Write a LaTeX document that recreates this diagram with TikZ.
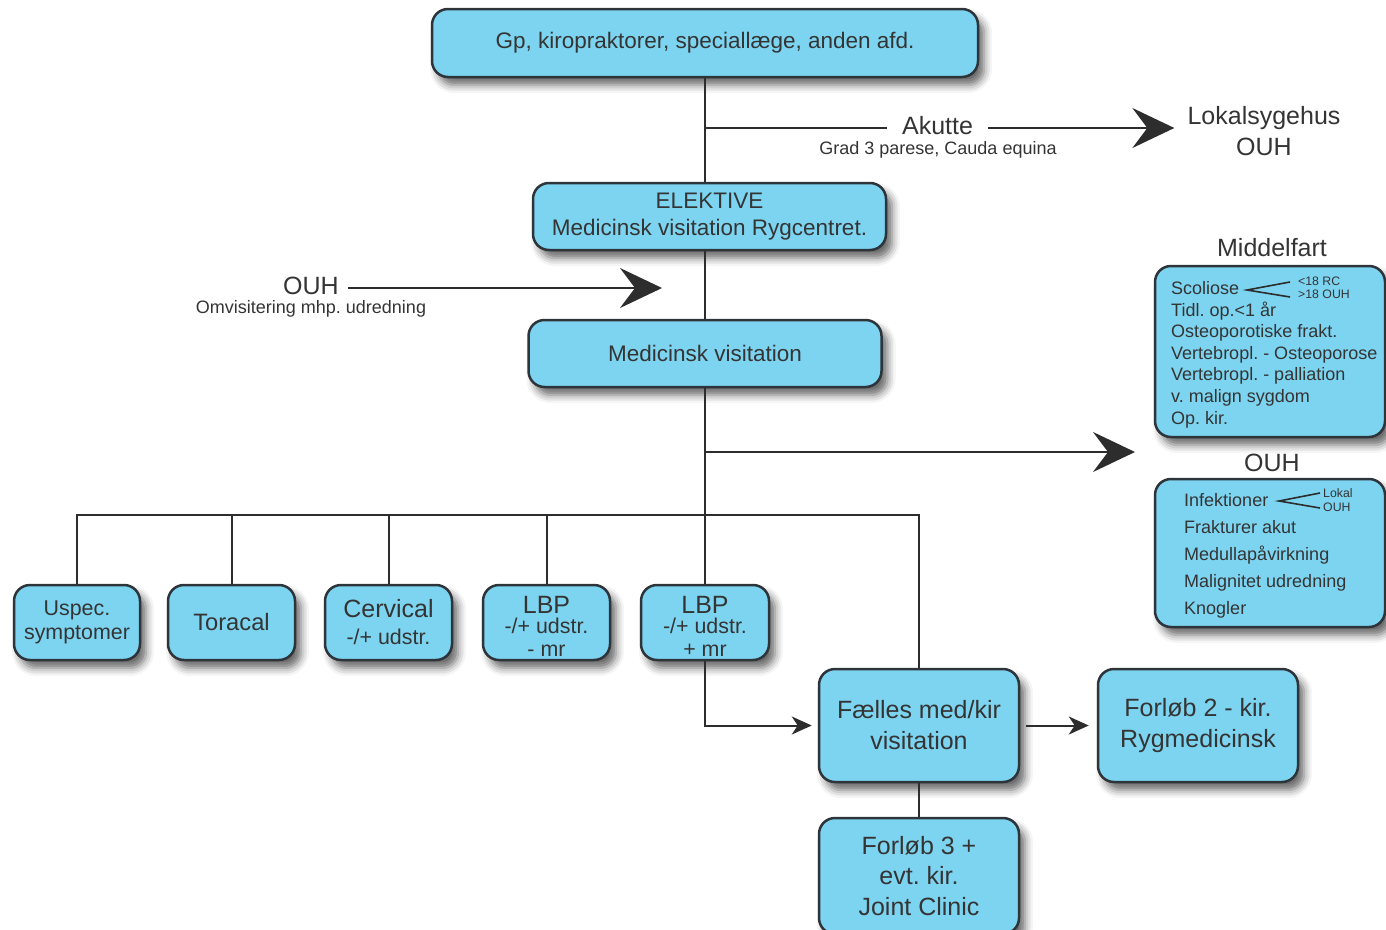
\documentclass[tikz,border=0pt]{standalone}
\usepackage{fontspec}
\setmainfont{Liberation Sans}
\usetikzlibrary{shadows.blur,arrows.meta,calc}
\definecolor{boxfill}{RGB}{125,212,240}
\definecolor{boxline}{RGB}{45,52,58}
\definecolor{txt}{RGB}{52,52,52}
\definecolor{wire}{RGB}{45,45,45}
\newcommand{\fs}[2]{\fontsize{#1}{#2}\selectfont}
\frenchspacing
\begin{document}
\frenchspacing
\begin{tikzpicture}[x=1pt,y=-1pt,
  box/.style={draw=boxline, line width=2.5pt, fill=boxfill, rounded corners=16pt, align=center, text=txt, inner sep=0pt,
    blur shadow={shadow xshift=6pt, shadow yshift=-8pt, shadow blur radius=8pt, shadow opacity=60}},
  conn/.style={draw=wire, line width=2pt},
  bigarrow/.style={conn, -{Stealth[length=42pt,width=40pt,inset=15pt]}},
  smallarrow/.style={conn, -{Stealth[length=20pt,width=18pt,inset=6pt]}},
  lbl/.style={text=txt, inner sep=0pt, align=center},
  twig/.style={draw=wire, line width=1.6pt},
]
\useasboundingbox (0,0) rectangle (1386,929);

% main column
\node[box, minimum width=546pt, minimum height=68pt, font=\fs{22.5}{27}] (gp) at (705,43) {Gp, kiropraktorer, speciallæge, anden afd.};
\node[box, minimum width=353pt, minimum height=67pt, font=\fs{22.5}{27}] (elek) at (709.5,216.5) {ELEKTIVE\\Medicinsk visitation Rygcentret.};
\node[box, minimum width=353pt, minimum height=67pt, font=\fs{22.5}{27}] (medv) at (705,353.5) {Medicinsk visitation};

% right panels
\node[box, minimum width=230pt, minimum height=171pt] (midf) at (1270,351.5) {};
\node[lbl, font=\fs{25}{30}] (midft) at (1272,248) {Middelfart};
\node[box, minimum width=230pt, minimum height=148pt] (ouhb) at (1270,553) {};
\node[lbl, font=\fs{25}{30}] (ouht) at (1272,463) {OUH};

\foreach \t [count=\i] in {Scoliose, Tidl. op.<1 år, Osteoporotiske frakt., Vertebropl. - Osteoporose, Vertebropl. - palliation, v. malign sygdom, Op. kir.}
  \node[lbl, anchor=base west, font=\fs{18}{21}] (m\i) at (1171,{294.5+21.6*(\i-1)}) {\t};
\draw[twig] (1290,282) -- (1247,290) -- (1290,297);
\node[lbl, anchor=west, font=\fs{12.3}{14}] (rc) at (1298,281) {<18 RC};
\node[lbl, anchor=west, font=\fs{12.3}{14}] (o18) at (1298,294.5) {>18 OUH};

\foreach \t [count=\i] in {Infektioner, Frakturer akut, Medullapåvirkning, Malignitet udredning, Knogler}
  \node[lbl, anchor=base west, font=\fs{18}{21}] (o\i) at (1184,{506.5+27*(\i-1)}) {\t};
\draw[twig] (1320,493) -- (1279,501) -- (1320,508);
\node[lbl, anchor=west, font=\fs{12.3}{14}] (lok) at (1323,493) {Lokal};
\node[lbl, anchor=west, font=\fs{12.3}{14}] (ouhs) at (1323,507) {OUH};

% Akutte branch
\coordinate (akb) at (705,128);
\node[lbl, font=\fs{25}{30}, inner xsep=15pt] (akutte) at (937.5,126) {Akutte};
\node[lbl, font=\fs{18}{21}] (grad) at (938,149.5) {Grad 3 parese, Cauda equina};
\node[lbl, font=\fs{25}{31}, inner xsep=13pt] (lokal) at (1264,131) {Lokalsygehus\\OUH};
\draw[conn] (akb) -- (akb -| akutte.west);
\draw[bigarrow] (akutte.east |- akb) -- (lokal.west |- akb);

% OUH left arrow
\node[lbl, font=\fs{25}{30}, inner xsep=9pt] (ouhl) at (311,286) {OUH};
\node[lbl, font=\fs{18}{21}] (omv) at (311,308.5) {Omvisitering mhp. udredning};
\coordinate (ouhtip) at (662,288);
\draw[bigarrow] (ouhl.east |- ouhtip) -- (ouhtip);

% bottom row
\node[box, minimum width=126pt, minimum height=75pt, font=\fs{21.4}{26}] (uspec) at (77,622.5) {\raisebox{-2pt}{Uspec.}\\symptomer};
\node[box, minimum width=127pt, minimum height=75pt, font=\fs{23.7}{28}] (toracal) at (231.5,622.5) {Toracal};
\node[box, minimum width=127pt, minimum height=75pt, font=\fs{21.4}{27}] (cervical) at (388.5,622.5) {{\fs{25}{27}Cervical}\\-/+ udstr.};
\node[box, minimum width=127pt, minimum height=75pt] (lbp1) at (546.5,622.5) {};
\node[lbl, font=\fs{21.4}{22.5}] (lbp1t) at (546.5,626.5) {{\fs{25}{22.5}LBP}\\[-2pt]-/+ udstr.\\[0.5pt]- mr};
\node[box, minimum width=128pt, minimum height=75pt] (lbp2) at (705,622.5) {};
\node[lbl, font=\fs{21.4}{22.5}] (lbp2t) at (705,626.5) {{\fs{25}{22.5}LBP}\\[-2pt]-/+ udstr.\\[0.5pt]+ mr};

\node[box, minimum width=200pt, minimum height=113pt, font=\fs{25}{31}] (fael) at (919,725.5) {Fælles med/kir\\visitation};
\node[box, minimum width=200pt, minimum height=113pt, font=\fs{25}{31}] (forl2) at (1198,725.5) {Forløb 2 - kir.\\Rygmedicinsk};
\node[box, minimum width=200pt, minimum height=116pt, font=\fs{25}{30.5}] (forl3) at (919,876) {Forløb 3 +\\evt. kir.\\Joint Clinic};

% connectors
\draw[conn] (gp.south) -- (gp.south |- elek.north);
\draw[conn] (gp.south |- elek.south) -- (gp.south |- medv.north);
\coordinate (bus) at (705,515);
\coordinate (rb) at (705,452);
\coordinate (rtip) at (1135,452);
\draw[conn] (medv.south) -- (lbp2.north);
\draw[bigarrow] (rb) -- (rtip);
\draw[conn] (uspec.north) -- (uspec.north |- bus) -- (fael.north |- bus) -- (fael.north);
\foreach \n in {toracal, cervical, lbp1}
  \draw[conn] (\n.north) -- (\n.north |- bus);
\draw[smallarrow, shorten >=6pt] (lbp2.south) |- (fael.west);
\draw[smallarrow, shorten <=6pt, shorten >=8pt] (fael.east) -- (forl2.west);
\draw[conn] (fael.south) -- (forl3.north);
\end{tikzpicture}
\end{document}
